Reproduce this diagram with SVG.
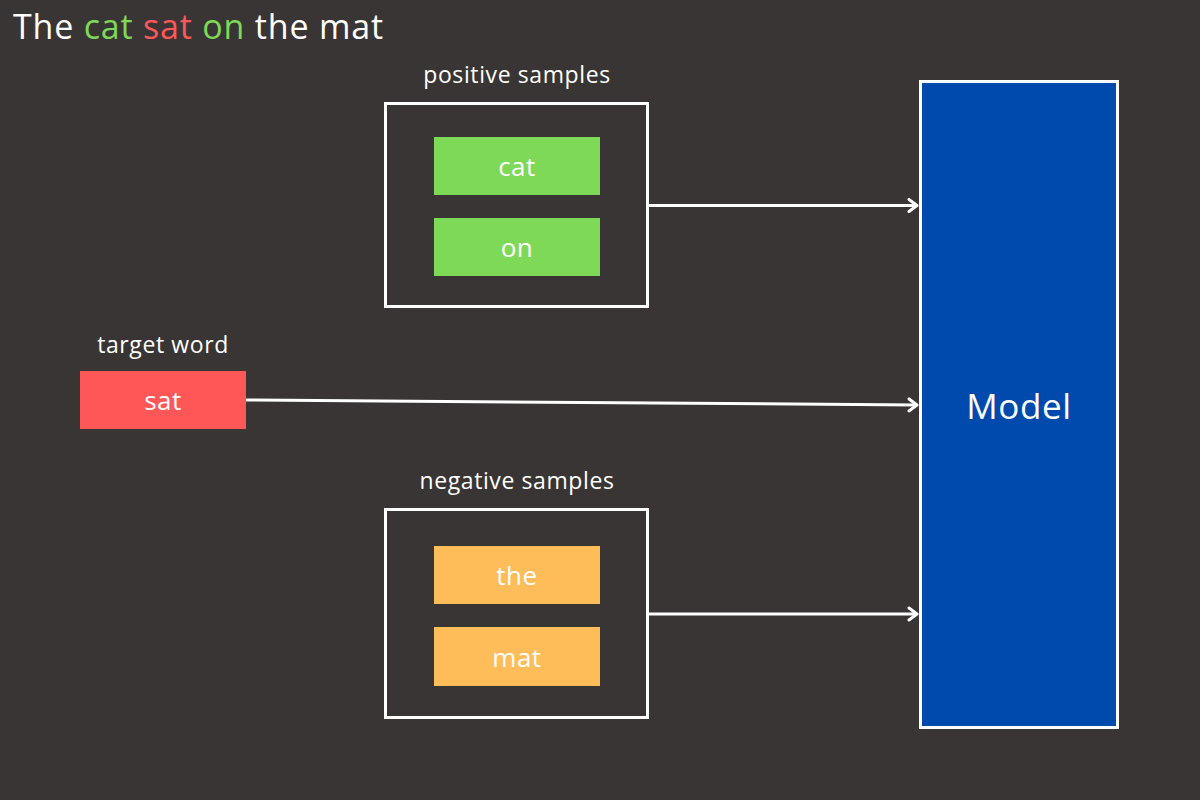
<svg xmlns="http://www.w3.org/2000/svg" width="1200" height="800" viewBox="0 0 1200 800">
<style>
text{font-family:"Open Sans","Noto Sans",sans-serif;fill:#ffffff}
.lbl{font-size:23px;text-anchor:middle;letter-spacing:0.6px}
.word{font-size:26px;text-anchor:middle;dominant-baseline:central;letter-spacing:0.5px}
.frame{fill:none;stroke:#ffffff;stroke-width:3}
.conn{stroke:#ffffff;stroke-width:3;fill:none}
</style>
<defs>
<marker id="arr" viewBox="0 0 12 16" refX="10" refY="8" markerWidth="12" markerHeight="16" markerUnits="userSpaceOnUse" orient="auto">
<path d="M2,2 L10,8 L2,14" fill="none" stroke="#ffffff" stroke-width="3" stroke-linecap="round" stroke-linejoin="round"/>
</marker>
</defs>
<rect width="1200" height="800" fill="#393534"/>
<text x="13" y="39" font-size="34" letter-spacing="0.8"><tspan>The </tspan><tspan fill="#7ED957">cat</tspan><tspan> </tspan><tspan fill="#FF5757">sat</tspan><tspan> </tspan><tspan fill="#7ED957">on</tspan><tspan> the mat</tspan></text>
<g id="positive">
<text class="lbl" x="517" y="83">positive samples</text>
<rect class="frame" x="385.5" y="103.5" width="262" height="203"/>
<g id="cat"><rect x="434" y="137" width="166" height="58" fill="#7ED957"/><text class="word" x="517" y="166">cat</text></g>
<g id="on"><rect x="434" y="218" width="166" height="58" fill="#7ED957"/><text class="word" x="517" y="247">on</text></g>
</g>
<g id="target">
<text class="lbl" x="163" y="353">target word</text>
<rect x="80" y="371" width="166" height="58" fill="#FF5757"/>
<text class="word" x="163" y="400">sat</text>
</g>
<g id="negative">
<text class="lbl" x="517" y="489">negative samples</text>
<rect class="frame" x="385.5" y="509.5" width="262" height="208"/>
<g id="the"><rect x="434" y="546" width="166" height="58" fill="#FFBD59"/><text class="word" x="517" y="575">the</text></g>
<g id="mat"><rect x="434" y="627" width="166" height="59" fill="#FFBD59"/><text class="word" x="517" y="657">mat</text></g>
</g>
<g id="model">
<rect x="920.5" y="81.5" width="197" height="646" fill="#004AAD" stroke="#ffffff" stroke-width="3"/>
<text x="1019" y="405" font-size="35" letter-spacing="0.6" text-anchor="middle" dominant-baseline="central">Model</text>
</g>
<g id="connectors">
<line class="conn" x1="649" y1="205.5" x2="917" y2="205.5" marker-end="url(#arr)"/>
<line class="conn" x1="246" y1="400" x2="917" y2="405" marker-end="url(#arr)"/>
<line class="conn" x1="649" y1="614" x2="917" y2="614" marker-end="url(#arr)"/>
</g>
</svg>
